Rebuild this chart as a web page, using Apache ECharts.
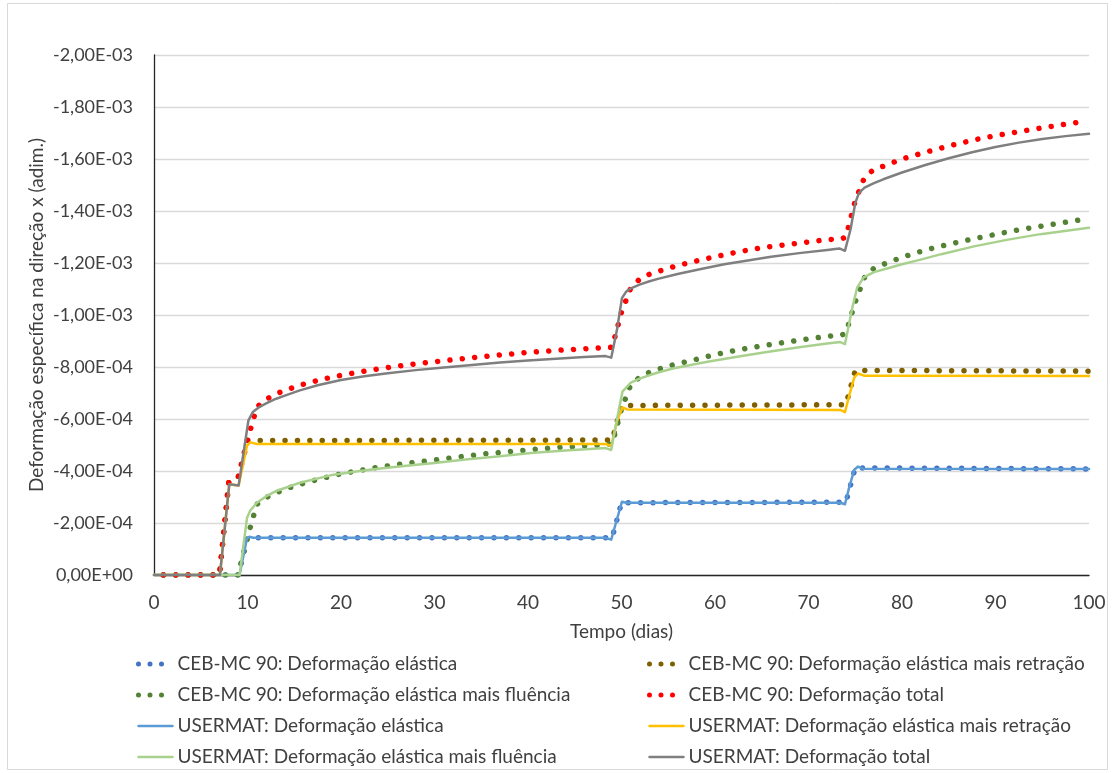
<!DOCTYPE html>
<html>
<head>
<meta charset="utf-8">
<title>Deformação específica na direção x</title>
<script src="https://cdn.jsdelivr.net/npm/echarts@6/dist/echarts.min.js"></script>
<style>
  html, body { margin: 0; padding: 0; background: #ffffff; }
  #chart { width: 1116px; height: 773px; }
</style>
</head>
<body>
<div id="chart"></div>
<script>
// Tempo (dias) x deformação específica; valores negativos = encurtamento.

// CEB-MC 90 (valores diários)
const cebElastica = [
  [1, 0], [9, 0], [10, -1.43e-4], [49, -1.43e-4], [50, -2.78e-4],
  [74, -2.80e-4], [75, -4.12e-4], [100, -4.08e-4]
];
const cebRetracao = [
  [1, 0], [7, 0], [8, -3.58e-4], [9, -3.75e-4], [10, -5.17e-4],
  [49, -5.19e-4], [50, -6.52e-4], [74, -6.55e-4], [75, -7.87e-4], [100, -7.84e-4]
];
const cebFluencia = [
  [1, 0], [9, 0], [10, -1.45e-4], [11, -2.72e-4], [12, -2.98e-4], [13, -3.15e-4],
  [14, -3.30e-4], [15, -3.42e-4], [16, -3.53e-4], [18, -3.72e-4], [20, -3.89e-4],
  [22, -4.02e-4], [24, -4.15e-4], [27, -4.29e-4], [30, -4.42e-4], [33, -4.56e-4],
  [36, -4.68e-4], [40, -4.81e-4], [43, -4.90e-4], [46, -4.97e-4], [49, -5.03e-4],
  [50, -6.38e-4], [51, -7.33e-4], [52, -7.62e-4], [53, -7.80e-4], [55, -8.04e-4],
  [57.5, -8.25e-4], [60, -8.48e-4], [62.5, -8.66e-4], [65, -8.81e-4], [67.5, -8.95e-4],
  [70, -9.08e-4], [72, -9.18e-4], [73.5, -9.22e-4], [74, -9.30e-4], [75, -1.05e-3],
  [76, -1.145e-3], [77, -1.18e-3], [78, -1.195e-3], [80, -1.222e-3], [82.5, -1.25e-3],
  [85, -1.272e-3], [87.5, -1.292e-3], [90, -1.31e-3], [92.5, -1.328e-3],
  [95, -1.342e-3], [97.5, -1.357e-3], [100, -1.371e-3]
];
const cebTotal = [
  [1, 0], [7, 0], [8, -3.58e-4], [9, -3.75e-4], [10, -5.20e-4], [11, -6.46e-4],
  [12, -6.76e-4], [13, -6.96e-4], [14, -7.10e-4], [15, -7.22e-4], [16, -7.34e-4],
  [18, -7.53e-4], [20, -7.68e-4], [22, -7.81e-4], [24, -7.93e-4], [27, -8.08e-4],
  [30, -8.20e-4], [33, -8.32e-4], [36, -8.43e-4], [40, -8.56e-4], [43, -8.64e-4],
  [46, -8.70e-4], [49, -8.76e-4], [50, -1.011e-3], [51, -1.105e-3], [52, -1.14e-3],
  [53, -1.157e-3], [55, -1.18e-3], [57.5, -1.204e-3], [60, -1.224e-3], [62.5, -1.243e-3],
  [65, -1.259e-3], [67.5, -1.27e-3], [70, -1.281e-3], [72, -1.29e-3], [73.5, -1.292e-3],
  [74, -1.30e-3], [75, -1.44e-3], [76, -1.53e-3], [77, -1.56e-3], [78, -1.572e-3],
  [80, -1.60e-3], [82.5, -1.626e-3], [85, -1.65e-3], [87.5, -1.672e-3], [90, -1.69e-3],
  [92.5, -1.705e-3], [95, -1.72e-3], [97.5, -1.734e-3], [99, -1.742e-3]
];

// USERMAT
const usrElastica = [
  [0, 0], [9.15, 0], [9.95, -1.42e-4], [10.2, -1.47e-4], [10.6, -1.43e-4],
  [48.3, -1.43e-4], [48.9, -1.36e-4], [49.4, -2.0e-4], [50.05, -2.82e-4], [50.5, -2.78e-4],
  [73.4, -2.78e-4], [73.9, -2.72e-4], [74.3, -3.3e-4], [74.9, -4.05e-4], [75.3, -4.17e-4],
  [75.8, -4.09e-4], [100, -4.08e-4]
];
const usrRetracao = [
  [0, 0], [7.05, 0], [8.05, -3.49e-4], [9.05, -3.44e-4], [9.95, -4.98e-4], [10.3, -5.10e-4],
  [11, -5.04e-4], [48.3, -5.04e-4], [48.9, -4.96e-4], [49.5, -5.9e-4], [50.1, -6.45e-4],
  [50.6, -6.37e-4], [73.4, -6.35e-4], [73.9, -6.26e-4], [74.4, -6.96e-4], [74.9, -7.6e-4],
  [75.3, -7.75e-4], [76, -7.66e-4], [100, -7.65e-4]
];
const usrFluencia = [
  [0, 0], [9.15, 0], [9.95, -2.2e-4], [10.3, -2.48e-4], [11, -2.78e-4], [12, -3.03e-4],
  [13, -3.22e-4], [15.6, -3.55e-4], [19.2, -3.86e-4], [22, -4.0e-4], [24.2, -4.1e-4],
  [27, -4.2e-4], [30, -4.31e-4], [33.3, -4.44e-4], [37, -4.57e-4], [40.3, -4.69e-4],
  [44, -4.79e-4], [48.3, -4.88e-4], [48.9, -4.81e-4], [49.5, -5.96e-4], [50.1, -7.05e-4],
  [51, -7.4e-4], [52, -7.56e-4], [53.8, -7.78e-4], [55.6, -7.95e-4], [59.2, -8.2e-4],
  [62.7, -8.41e-4], [65.9, -8.6e-4], [69, -8.76e-4], [72, -8.9e-4], [73.4, -8.96e-4],
  [73.9, -8.88e-4], [74.7, -1.03e-3], [75.2, -1.105e-3], [75.9, -1.145e-3], [77, -1.165e-3],
  [78.5, -1.18e-3], [80, -1.195e-3], [82, -1.213e-3], [84.2, -1.234e-3], [87.7, -1.264e-3],
  [91.2, -1.289e-3], [94.8, -1.311e-3], [100, -1.336e-3]
];
const usrTotal = [
  [0, 0], [7.05, 0], [8.05, -3.49e-4], [9.05, -3.44e-4], [10.1, -5.95e-4], [10.6, -6.28e-4],
  [11.3, -6.47e-4], [12, -6.6e-4], [13, -6.77e-4], [14, -6.9e-4], [15.6, -7.1e-4],
  [17.5, -7.3e-4], [20, -7.5e-4], [22.5, -7.64e-4], [25, -7.76e-4], [28, -7.88e-4],
  [31, -7.98e-4], [34, -8.08e-4], [37, -8.17e-4], [40, -8.25e-4], [43, -8.32e-4],
  [46, -8.38e-4], [48.3, -8.42e-4], [48.9, -8.36e-4], [49.5, -9.4e-4], [50.05, -1.065e-3],
  [50.5, -1.09e-3], [51, -1.102e-3], [52, -1.118e-3], [53, -1.13e-3], [54, -1.14e-3],
  [56, -1.158e-3], [58.5, -1.177e-3], [61, -1.195e-3], [63.5, -1.21e-3], [66, -1.224e-3],
  [69, -1.238e-3], [72, -1.25e-3], [73.3, -1.256e-3], [73.9, -1.247e-3], [74.5, -1.33e-3],
  [75, -1.43e-3], [75.4, -1.47e-3], [76, -1.49e-3], [77, -1.507e-3], [78, -1.522e-3],
  [80, -1.548e-3], [82.5, -1.577e-3], [85, -1.603e-3], [87.5, -1.626e-3], [90, -1.646e-3],
  [92.5, -1.663e-3], [95, -1.677e-3], [97.5, -1.688e-3], [100, -1.697e-3]
];

const seriesNames = [
  'CEB-MC 90: Deformação elástica',
  'CEB-MC 90: Deformação elástica mais retração',
  'CEB-MC 90: Deformação elástica mais fluência',
  'CEB-MC 90: Deformação total',
  'USERMAT: Deformação elástica',
  'USERMAT: Deformação elástica mais retração',
  'USERMAT: Deformação elástica mais fluência',
  'USERMAT: Deformação total'
];
const seriesData = [cebElastica, cebRetracao, cebFluencia, cebTotal,
                    usrElastica, usrRetracao, usrFluencia, usrTotal];
const seriesColors = ['#4472C4', '#7F6000', '#548235', '#FF0000',
                      '#5B9BD5', '#FFC000', '#A9D18E', '#7F7F7F'];

const FONT = 'Lato, "Open Sans", sans-serif';
const FS = 19;

// Formato científico com vírgula decimal: -2,00E-03
function sci(v) {
  if (Math.abs(v) < 1e-12) return '0,00E+00';
  const parts = v.toExponential(2).split('e');
  const mant = parts[0].replace('.', ',');
  const e = parseInt(parts[1], 10);
  const es = (e < 0 ? '-' : '+') + String(Math.abs(e)).padStart(2, '0');
  return mant + 'E' + es;
}

function makeSeries(i) {
  const dotted = i < 4;
  return {
    name: seriesNames[i],
    type: 'line',
    data: seriesData[i],
    symbol: 'none',
    showSymbol: false,
    smooth: false,
    animation: false,
    color: seriesColors[i],
    lineStyle: dotted
      ? { color: seriesColors[i], width: 5.5, type: [0.001, 12.4], cap: 'round' }
      : { color: seriesColors[i], width: 2.5, cap: 'round', join: 'round' },
    emphasis: { disabled: true }
  };
}

// Ícone da legenda: só o traço (pontilhado ou contínuo), sem marcador
function legendItem(i) {
  const dotted = i < 4;
  return {
    name: seriesNames[i],
    itemStyle: { opacity: 0 },
    lineStyle: dotted
      ? { color: seriesColors[i], width: 5, type: [0.001, 11.5], cap: 'round' }
      : { color: seriesColors[i], width: 2.5, type: 'solid' }
  };
}

const legendCommon = {
  orient: 'vertical',
  top: 653,
  padding: 0,
  itemWidth: 34,
  itemHeight: 14,
  itemGap: 9,
  selectedMode: false,
  textStyle: { fontFamily: FONT, fontSize: FS, color: '#404040', lineHeight: 22 }
};

const chart = echarts.init(document.getElementById('chart'), null, { renderer: 'canvas' });
chart.setOption({
  backgroundColor: '#ffffff',
  animation: false,
  grid: { left: 154, right: 27, top: 55, bottom: 198, containLabel: false },
  xAxis: {
    type: 'value',
    min: 0, max: 100, interval: 10,
    name: 'Tempo (dias)',
    nameLocation: 'middle',
    nameGap: 47,
    nameMoveOverlap: false,
    nameTextStyle: { fontFamily: FONT, fontSize: FS, color: '#404040' },
    axisLine: { show: true, onZero: false, lineStyle: { color: '#262626', width: 1.3 } },
    axisTick: { show: false },
    axisLabel: { fontFamily: FONT, fontSize: FS, color: '#404040', margin: 18 },
    splitLine: { show: false }
  },
  yAxis: {
    type: 'value',
    inverse: true,
    min: -0.002, max: 0, interval: 0.0002,
    name: 'Deformação específica na direção x (adim.)',
    nameLocation: 'middle',
    nameRotate: 90,
    nameGap: 108,
    nameMoveOverlap: false,
    nameTextStyle: { fontFamily: FONT, fontSize: FS, color: '#404040' },
    axisLine: { show: true, onZero: false, lineStyle: { color: '#262626', width: 1.3 } },
    axisTick: { show: false },
    axisLabel: { fontFamily: FONT, fontSize: 18, color: '#404040', margin: 21, formatter: sci },
    splitLine: { show: true, lineStyle: { color: '#D9D9D9', width: 1.3 } }
  },
  legend: [
    Object.assign({ left: 136, data: [0, 2, 4, 6].map(legendItem) }, legendCommon),
    Object.assign({ left: 647, data: [1, 3, 5, 7].map(legendItem) }, legendCommon)
  ],
  graphic: [{
    type: 'rect',
    silent: true,
    z: -10,
    shape: { x: 7.5, y: 3.5, width: 1100, height: 766 },
    style: { fill: 'none', stroke: '#D9D9D9', lineWidth: 1 }
  }],
  series: seriesData.map((d, i) => makeSeries(i))
});
</script>
</body>
</html>
